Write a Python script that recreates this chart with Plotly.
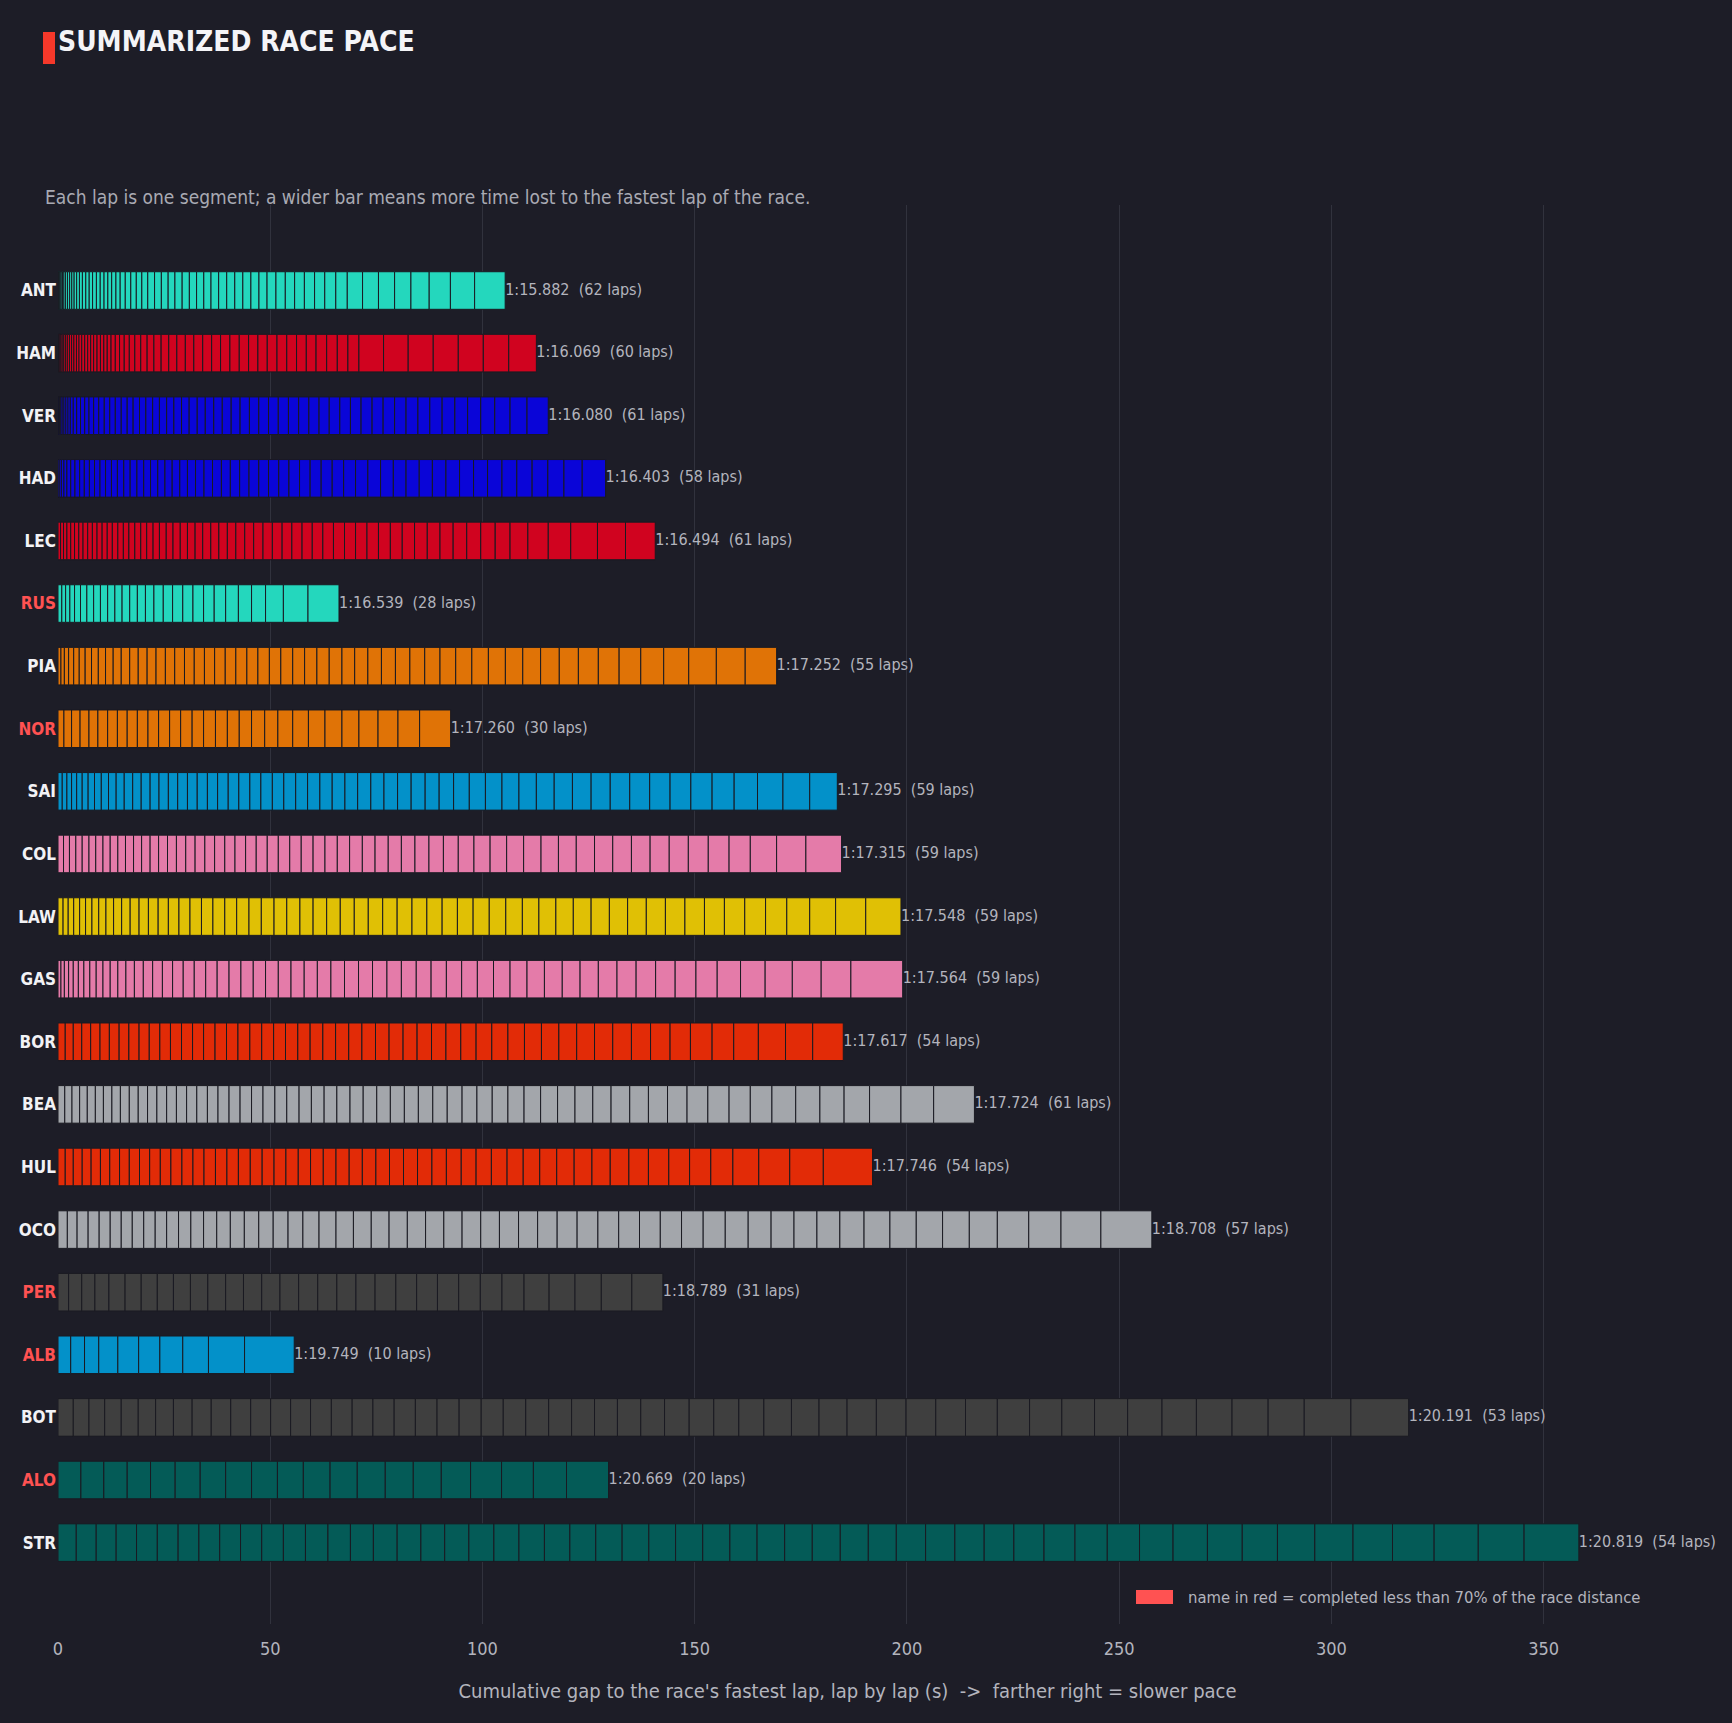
import plotly.graph_objects as go

# ---------------- data ----------------
drivers = ["ANT", "HAM", "VER", "HAD", "LEC", "RUS", "PIA", "NOR", "SAI", "COL", "LAW",
           "GAS", "BOR", "BEA", "HUL", "OCO", "PER", "ALB", "BOT", "ALO", "STR"]
best_lap = ["1:15.882", "1:16.069", "1:16.080", "1:16.403", "1:16.494", "1:16.539", "1:17.252",
            "1:17.260", "1:17.295", "1:17.315", "1:17.548", "1:17.564", "1:17.617", "1:17.724",
            "1:17.746", "1:18.708", "1:18.789", "1:19.749", "1:20.191", "1:20.669", "1:20.819"]
short_race = ["RUS", "NOR", "PER", "ALB", "ALO"]
driver_color = ["#24D7BD", "#D0031F", "#0A05D8", "#0A05D8", "#D0031F", "#24D7BD", "#E07306",
                "#E07306", "#0391C9", "#E47BA9", "#E0C005", "#E47BA9", "#E22B07", "#A3A6AB",
                "#E22B07", "#A3A6AB", "#3F3F3F", "#0391C9", "#3F3F3F", "#045B57", "#045B57"]

# per-lap gap to the race's fastest lap (s), sorted ascending
ANT = [0.05, 0.1, 0.15, 0.2, 0.25, 0.3, 0.35, 0.4, 0.45, 0.5, 0.5, 0.55, 0.6, 0.65, 0.7,
       0.8, 0.8, 0.8, 0.9, 0.9, 0.9, 0.9, 0.9, 1.0, 1.0, 1.2, 1.3, 1.3, 1.3, 1.4,
       1.6, 1.6, 1.6, 1.6, 1.7, 1.7, 1.7, 1.7, 1.7, 1.8, 1.9, 1.9, 1.9, 1.9, 1.9, 1.9,
       2.1, 2.2, 2.2, 2.3, 2.4, 2.4, 2.6, 2.7, 3.6, 3.75, 3.8, 3.85, 4.3, 5.0, 5.7, 7.2]
HAM = [0.1, 0.15, 0.2, 0.25, 0.3, 0.35, 0.4, 0.45, 0.5, 0.5, 0.55, 0.6, 0.6, 0.65,
       0.7, 0.7, 0.7, 0.7, 0.8, 0.8, 0.8, 0.8,
       0.9, 1.0, 1.0, 1.1, 1.2, 1.3, 1.4, 1.5, 1.6, 1.7, 1.8, 1.9, 2.0, 2.0, 2.1, 2.1, 2.1,
       2.2, 2.2, 2.2, 2.2, 2.2, 2.3, 2.3, 2.3, 2.3, 2.3, 2.5, 2.5, 2.5, 2.6,
       5.8, 5.8, 5.9, 5.9, 5.9, 6.0, 6.5]
VER = [0.15, 0.2, 0.3, 0.35, 0.4, 0.45, 0.5, 0.55,
       0.7, 0.8, 0.9, 1.0, 1.0, 1.1, 1.2, 1.3, 1.3, 1.3, 1.4, 1.4, 1.4, 1.5, 1.5, 1.6, 1.6, 1.7, 1.7,
       1.8, 1.8, 1.9, 1.9, 2.0, 2.0, 2.1, 2.1, 2.2, 2.2, 2.3, 2.3, 2.4, 2.4,
       2.4, 2.4, 2.4, 2.5, 2.5, 2.5, 2.6, 2.6, 2.7, 2.7, 2.8, 2.8, 2.9, 3.0, 3.0, 3.1, 3.3, 3.6, 4.0, 5.0]
HAD = [0.3, 0.5, 0.6, 0.7,
       0.9, 1.0, 1.1, 1.1, 1.2, 1.2, 1.3, 1.3, 1.4, 1.4, 1.5, 1.5, 1.6, 1.6, 1.6, 1.7, 1.7, 1.7, 1.8, 1.8,
       1.9, 2.0, 2.0, 2.1, 2.1, 2.2, 2.2, 2.3, 2.3, 2.4, 2.4, 2.5, 2.5, 2.6, 2.6, 2.7, 2.8, 2.9, 3.0, 3.0,
       3.0, 3.1, 3.1, 3.2, 3.2, 3.3, 3.3, 3.4, 3.5, 3.6, 3.7, 3.8, 4.3, 5.5]
LEC = [0.6, 0.7, 0.8, 0.9, 0.9, 1.0, 1.0, 1.1, 1.1, 1.1, 1.2, 1.2, 1.2, 1.3, 1.3, 1.3, 1.4, 1.4, 1.4, 1.5,
       1.5, 1.6, 1.6, 1.7, 1.7, 1.8, 1.8, 1.9, 1.9, 2.0, 2.0, 2.1, 2.1, 2.2, 2.2, 2.3, 2.3, 2.4, 2.4, 2.5,
       2.5, 2.6, 2.6, 2.7, 2.7, 2.8, 2.8, 2.9, 3.0, 3.0, 3.1, 3.2, 3.3, 3.4, 3.5, 4.2, 4.8, 5.3, 6.3, 6.6, 7.0]
RUS = [0.9, 0.9, 1.0, 1.1, 1.4, 1.5, 1.6, 1.6, 1.7, 1.7, 1.7, 1.8, 1.8, 1.9, 2.0, 2.2, 2.2, 2.4, 2.4,
       2.5, 2.5, 2.7, 3.0, 3.1, 3.3, 4.2, 5.8, 7.3]
PIA = [0.7, 0.8, 1.0, 1.2, 1.3, 1.4, 1.5, 1.6, 1.7, 1.8, 1.9, 2.0, 2.0, 2.1, 2.1, 2.2, 2.2, 2.3, 2.3, 2.4,
       2.4, 2.5, 2.5, 2.6, 2.6, 2.7, 2.7, 2.8, 2.8, 2.9, 2.9, 3.0, 3.0, 3.1, 3.2, 3.3, 3.4, 3.5, 3.6, 3.7,
       3.8, 3.9, 4.0, 4.1, 4.2, 4.4, 4.5, 4.7, 4.9, 5.1, 5.4, 5.9, 6.5, 6.8, 7.4]
NOR = [1.4, 1.8, 2.0, 2.1, 2.1, 2.3, 2.3, 2.3, 2.4, 2.5, 2.5, 2.6, 2.6, 2.7, 2.7, 2.8, 2.8, 2.8, 2.9,
       3.1, 3.1, 3.5, 3.7, 3.9, 4.0, 4.0, 4.5, 4.7, 5.1, 7.3]
SAI = [1.0, 1.1, 1.1, 1.2, 1.3, 1.4, 1.5, 1.6, 1.7, 1.8, 1.9, 2.0, 2.0, 2.1, 2.1, 2.2, 2.2, 2.3, 2.3, 2.4,
       2.4, 2.5, 2.5, 2.6, 2.6, 2.7, 2.7, 2.8, 2.8, 2.9, 2.9, 3.0, 3.0, 3.1, 3.1, 3.2, 3.2, 3.3, 3.3, 3.4,
       3.7, 3.8, 3.9, 4.0, 4.1, 4.2, 4.3, 4.4, 4.5, 4.6, 4.7, 4.8, 4.9, 5.0, 5.2, 5.5, 6.0, 6.3, 6.5]
COL = [1.3, 1.4, 1.5, 1.5, 1.6, 1.6, 1.7, 1.7, 1.8, 1.8, 1.9, 1.9, 2.0, 2.0, 2.1, 2.1, 2.2, 2.2, 2.3, 2.3,
       2.4, 2.4, 2.5, 2.5, 2.6, 2.6, 2.7, 2.7, 2.8, 2.8, 2.9, 2.9, 3.0, 3.0, 3.1, 3.1, 3.2, 3.3, 3.4, 3.5,
       3.7, 3.8, 3.9, 4.0, 4.1, 4.1, 4.2, 4.3, 4.3, 4.4, 4.4, 4.5, 4.5, 4.7, 4.9, 5.0, 6.2, 6.9, 8.4]
LAW = [1.2, 1.2, 1.3, 1.4, 1.4, 1.5, 1.6, 1.7, 1.8, 1.9, 2.0, 2.1, 2.2, 2.3, 2.4, 2.5, 2.6, 2.7, 2.7, 2.8,
       2.8, 2.9, 2.9, 3.0, 3.0, 3.1, 3.1, 3.2, 3.2, 3.3, 3.3, 3.4, 3.4, 3.5, 3.5, 3.6, 3.6, 3.7, 3.8, 3.9,
       3.9, 3.9, 4.0, 4.1, 4.2, 4.3, 4.3, 4.4, 4.5, 4.6, 4.6, 4.7, 4.8, 4.9, 5.0, 5.4, 6.1, 7.1, 8.3]
GAS = [0.7, 0.8, 1.0, 1.1, 1.2, 1.3, 1.4, 1.5, 1.6, 1.7, 1.8, 1.9, 2.0, 2.1, 2.2, 2.3, 2.4, 2.5, 2.6, 2.7,
       2.7, 2.8, 2.8, 2.9, 2.9, 3.0, 3.0, 3.1, 3.1, 3.2, 3.2, 3.3, 3.3, 3.4, 3.4, 3.5, 3.5, 3.6, 3.6, 3.7,
       3.8, 3.9, 4.0, 4.1, 4.2, 4.2, 4.3, 4.4, 4.5, 4.6, 4.6, 4.9, 5.0, 5.5, 5.8, 6.4, 6.8, 7.0, 12.2]
BOR = [1.7, 1.9, 2.0, 2.1, 2.2, 2.2, 2.3, 2.3, 2.4, 2.4, 2.5, 2.5, 2.6, 2.6, 2.6, 2.7, 2.7, 2.7, 2.8, 2.8,
       2.8, 2.8, 2.9, 2.9, 3.0, 3.0, 3.1, 3.1, 3.2, 3.2, 3.3, 3.3, 3.4, 3.4, 3.5, 3.6, 3.7, 3.8, 3.9, 4.0,
       4.1, 4.2, 4.2, 4.3, 4.4, 4.5, 4.6, 4.8, 5.1, 5.1, 5.8, 6.4, 6.4, 7.2]
BEA = [1.6, 1.7, 1.8, 1.8, 1.9, 1.9, 2.0, 2.0, 2.1, 2.1, 2.2, 2.2, 2.3, 2.3, 2.4, 2.4, 2.5, 2.5, 2.6, 2.6,
       2.7, 2.7, 2.8, 2.8, 2.9, 2.9, 3.0, 3.0, 3.1, 3.1, 3.2, 3.2, 3.3, 3.3, 3.4, 3.4, 3.5, 3.5, 3.6, 3.7,
       3.8, 3.9, 4.0, 4.1, 4.2, 4.3, 4.4, 4.4, 4.5, 4.6, 4.9, 5.0, 5.0, 5.1, 5.6, 5.7, 5.7, 6.0, 7.4, 7.7, 9.6]
HUL = [1.7, 1.9, 2.1, 2.1, 2.2, 2.2, 2.3, 2.3, 2.4, 2.4, 2.5, 2.5, 2.6, 2.6, 2.6, 2.7, 2.7, 2.7, 2.8, 2.8,
       2.8, 2.8, 2.9, 2.9, 3.0, 3.0, 3.1, 3.1, 3.2, 3.2, 3.3, 3.3, 3.4, 3.4, 3.5, 3.5, 3.6, 3.7, 3.8, 3.9,
       4.0, 4.1, 4.2, 4.3, 4.4, 4.6, 4.8, 4.9, 5.0, 5.2, 6.1, 7.3, 7.9, 11.6]
OCO = [2.2, 2.3, 2.6, 2.6, 2.6, 2.6, 2.6, 2.7, 2.7, 2.7, 2.8, 2.9, 3.0, 3.1, 3.2, 3.3, 3.4, 3.4, 3.5, 3.5,
       3.8, 4.0, 4.1, 4.2, 4.2, 4.3, 4.3, 4.3, 4.3, 4.4, 4.4, 4.5, 4.5, 4.6, 4.7,
       4.9, 4.9, 4.9, 4.9, 5.0, 5.1, 5.2, 5.4, 5.4, 5.4, 5.4, 5.4, 5.7, 6.1, 6.2, 6.2, 6.3, 6.6, 7.4, 7.6,
       9.4, 12.0]
PER = [2.5, 3.1, 3.1, 3.3, 3.8, 3.8, 3.8, 3.8, 4.0, 4.1, 4.2, 4.2, 4.3, 4.3, 4.4, 4.5, 4.5, 4.5, 4.5,
       4.9, 4.9, 4.9, 5.0, 5.1, 5.1, 5.2, 5.9, 6.1, 6.2, 7.2, 7.3]
ALB = [3.0, 3.25, 3.35, 4.5, 4.9, 5.0, 5.4, 6.05, 8.5, 11.7]
BOT = [3.6, 3.7, 3.7, 3.9, 4.0, 4.1, 4.2, 4.4, 4.5, 4.6, 4.7, 4.7, 4.7, 4.7, 4.9, 4.9, 4.9, 5.0, 5.0,
       5.1, 5.2, 5.2, 5.2, 5.3, 5.4, 5.4, 5.4, 5.4, 5.5, 5.6, 5.8, 5.8, 5.9, 5.9,
       6.5, 6.5, 6.6, 6.9, 7.0, 7.0, 7.0, 7.5, 7.6, 7.6, 7.7, 7.8, 8.1, 8.1, 8.4, 8.5, 8.5, 11.0, 13.6]
ALO = [5.4, 5.4, 5.5, 5.5, 5.8, 5.9, 6.0, 6.1, 6.1, 6.1, 6.3, 6.4, 6.6, 6.6, 6.6, 6.9, 7.3, 7.5, 7.8, 9.9]
STR = [4.3, 4.7, 4.7, 4.8, 4.9, 4.9, 4.9, 4.9, 4.9, 5.0, 5.1, 5.2, 5.3, 5.3, 5.4, 5.6, 5.6, 5.6, 5.7,
       5.9, 5.9, 6.0, 6.0, 6.1, 6.2, 6.3, 6.3, 6.4, 6.4, 6.4, 6.5,
       6.5, 6.6, 6.6, 6.6, 6.9, 6.9, 6.9, 7.0, 7.1, 7.3, 7.6, 7.6, 7.9, 8.1, 8.2, 8.3, 8.8, 9.0, 9.3,
       9.8, 10.4, 10.8, 12.9]

x_ticks = [0, 50, 100, 150, 200, 250, 300, 350]

laps_by_driver = {"ANT": ANT, "HAM": HAM, "VER": VER, "HAD": HAD, "LEC": LEC, "RUS": RUS,
                  "PIA": PIA, "NOR": NOR, "SAI": SAI, "COL": COL, "LAW": LAW, "GAS": GAS,
                  "BOR": BOR, "BEA": BEA, "HUL": HUL, "OCO": OCO, "PER": PER, "ALB": ALB,
                  "BOT": BOT, "ALO": ALO, "STR": STR}

# ---------------- style ----------------
BG = "#1d1d27"
GRID = "#31323d"
FONT = "Liberation Sans Narrow, DejaVu Sans Condensed, Roboto, sans-serif"
TXT = "#b3b4bd"
RED_NAME = "#ff5252"

W_PX, H_PX = 1732, 1723
L, R, T, B = 58, 95, 205, 99
PW, PH = W_PX - L - R, H_PX - T - B


def px_x(px):
    return (px - L) / PW


def px_y(py):
    return 1 - (py - T) / PH


# ---------------- build segments ----------------
seg_x, seg_base, seg_y, seg_col = [], [], [], []
totals, labels = [], []
for d, col, best in zip(drivers, driver_color, best_lap):
    laps = laps_by_driver[d]
    start = 0.0
    for g in laps:
        seg_x.append(g)
        seg_base.append(start)
        seg_y.append(d)
        seg_col.append(col)
        start += g
    totals.append(start)
    labels.append(f"{best}  ({len(laps)} laps)")

fig = go.Figure()
fig.add_trace(go.Bar(
    orientation="h", x=seg_x, base=seg_base, y=seg_y, width=0.6,
    marker=dict(color=seg_col, line=dict(color="#1a1a22", width=1)),
    showlegend=False, hoverinfo="skip"))
fig.add_trace(go.Scatter(
    x=totals, y=drivers, mode="text", text=labels, textposition="middle right",
    textfont=dict(family=FONT, size=16, color=TXT), showlegend=False, hoverinfo="skip",
    cliponaxis=False))

ticktext = []
for d in drivers:
    c = RED_NAME if d in short_race else "#f2f2f5"
    ticktext.append(f"<b><span style='color:{c}'>{d}</span></b>")

fig.update_layout(
    width=W_PX, height=H_PX,
    paper_bgcolor=BG, plot_bgcolor=BG,
    margin=dict(l=L, r=R, t=T, b=B),
    barmode="overlay",
    font=dict(family=FONT, color=TXT),
    xaxis=dict(range=[0, 372], tickvals=x_ticks, ticktext=[str(v) for v in x_ticks],
               showgrid=True, gridcolor=GRID, gridwidth=1, zeroline=False, showline=False,
               ticks="", tickfont=dict(family=FONT, size=18, color=TXT), ticklabelstandoff=12,
               title=dict(text="Cumulative gap to the race's fastest lap, lap by lap (s)  ->  farther right = slower pace",
                          font=dict(family=FONT, size=20, color=TXT), standoff=25)),
    yaxis=dict(type="category", categoryorder="array", categoryarray=drivers,
               tickvals=drivers, ticktext=ticktext, range=[21.30, -1.366],
               showgrid=False, zeroline=False, showline=False, ticks="",
               tickfont=dict(family=FONT, size=17, color="#f2f2f5"), ticklabelstandoff=1),
)

# title block
fig.add_shape(type="rect", xref="paper", yref="paper",
              x0=px_x(43), x1=px_x(55), y0=px_y(64), y1=px_y(32),
              fillcolor="#f5382a", line=dict(width=0))
fig.add_annotation(xref="paper", yref="paper", x=px_x(56), y=px_y(41), xanchor="left", yanchor="middle",
                   text="<b>SUMMARIZED RACE PACE</b>", showarrow=False,
                   font=dict(family=FONT, size=28, color="#f4f4f7"))
fig.add_annotation(xref="paper", yref="paper", x=px_x(43), y=px_y(197), xanchor="left", yanchor="middle",
                   text="Each lap is one segment; a wider bar means more time lost to the fastest lap of the race.",
                   showarrow=False, font=dict(family=FONT, size=19, color="#a9aab3"))

# legend for red names
fig.add_shape(type="rect", xref="paper", yref="paper",
              x0=px_x(1136), x1=px_x(1173), y0=px_y(1604), y1=px_y(1590),
              fillcolor=RED_NAME, line=dict(width=0))
fig.add_annotation(xref="paper", yref="paper", x=px_x(1186), y=px_y(1597), xanchor="left", yanchor="middle",
                   text="name in red = completed less than 70% of the race distance",
                   showarrow=False, font=dict(family=FONT, size=16.5, color=TXT))

fig.write_html("out.html")
